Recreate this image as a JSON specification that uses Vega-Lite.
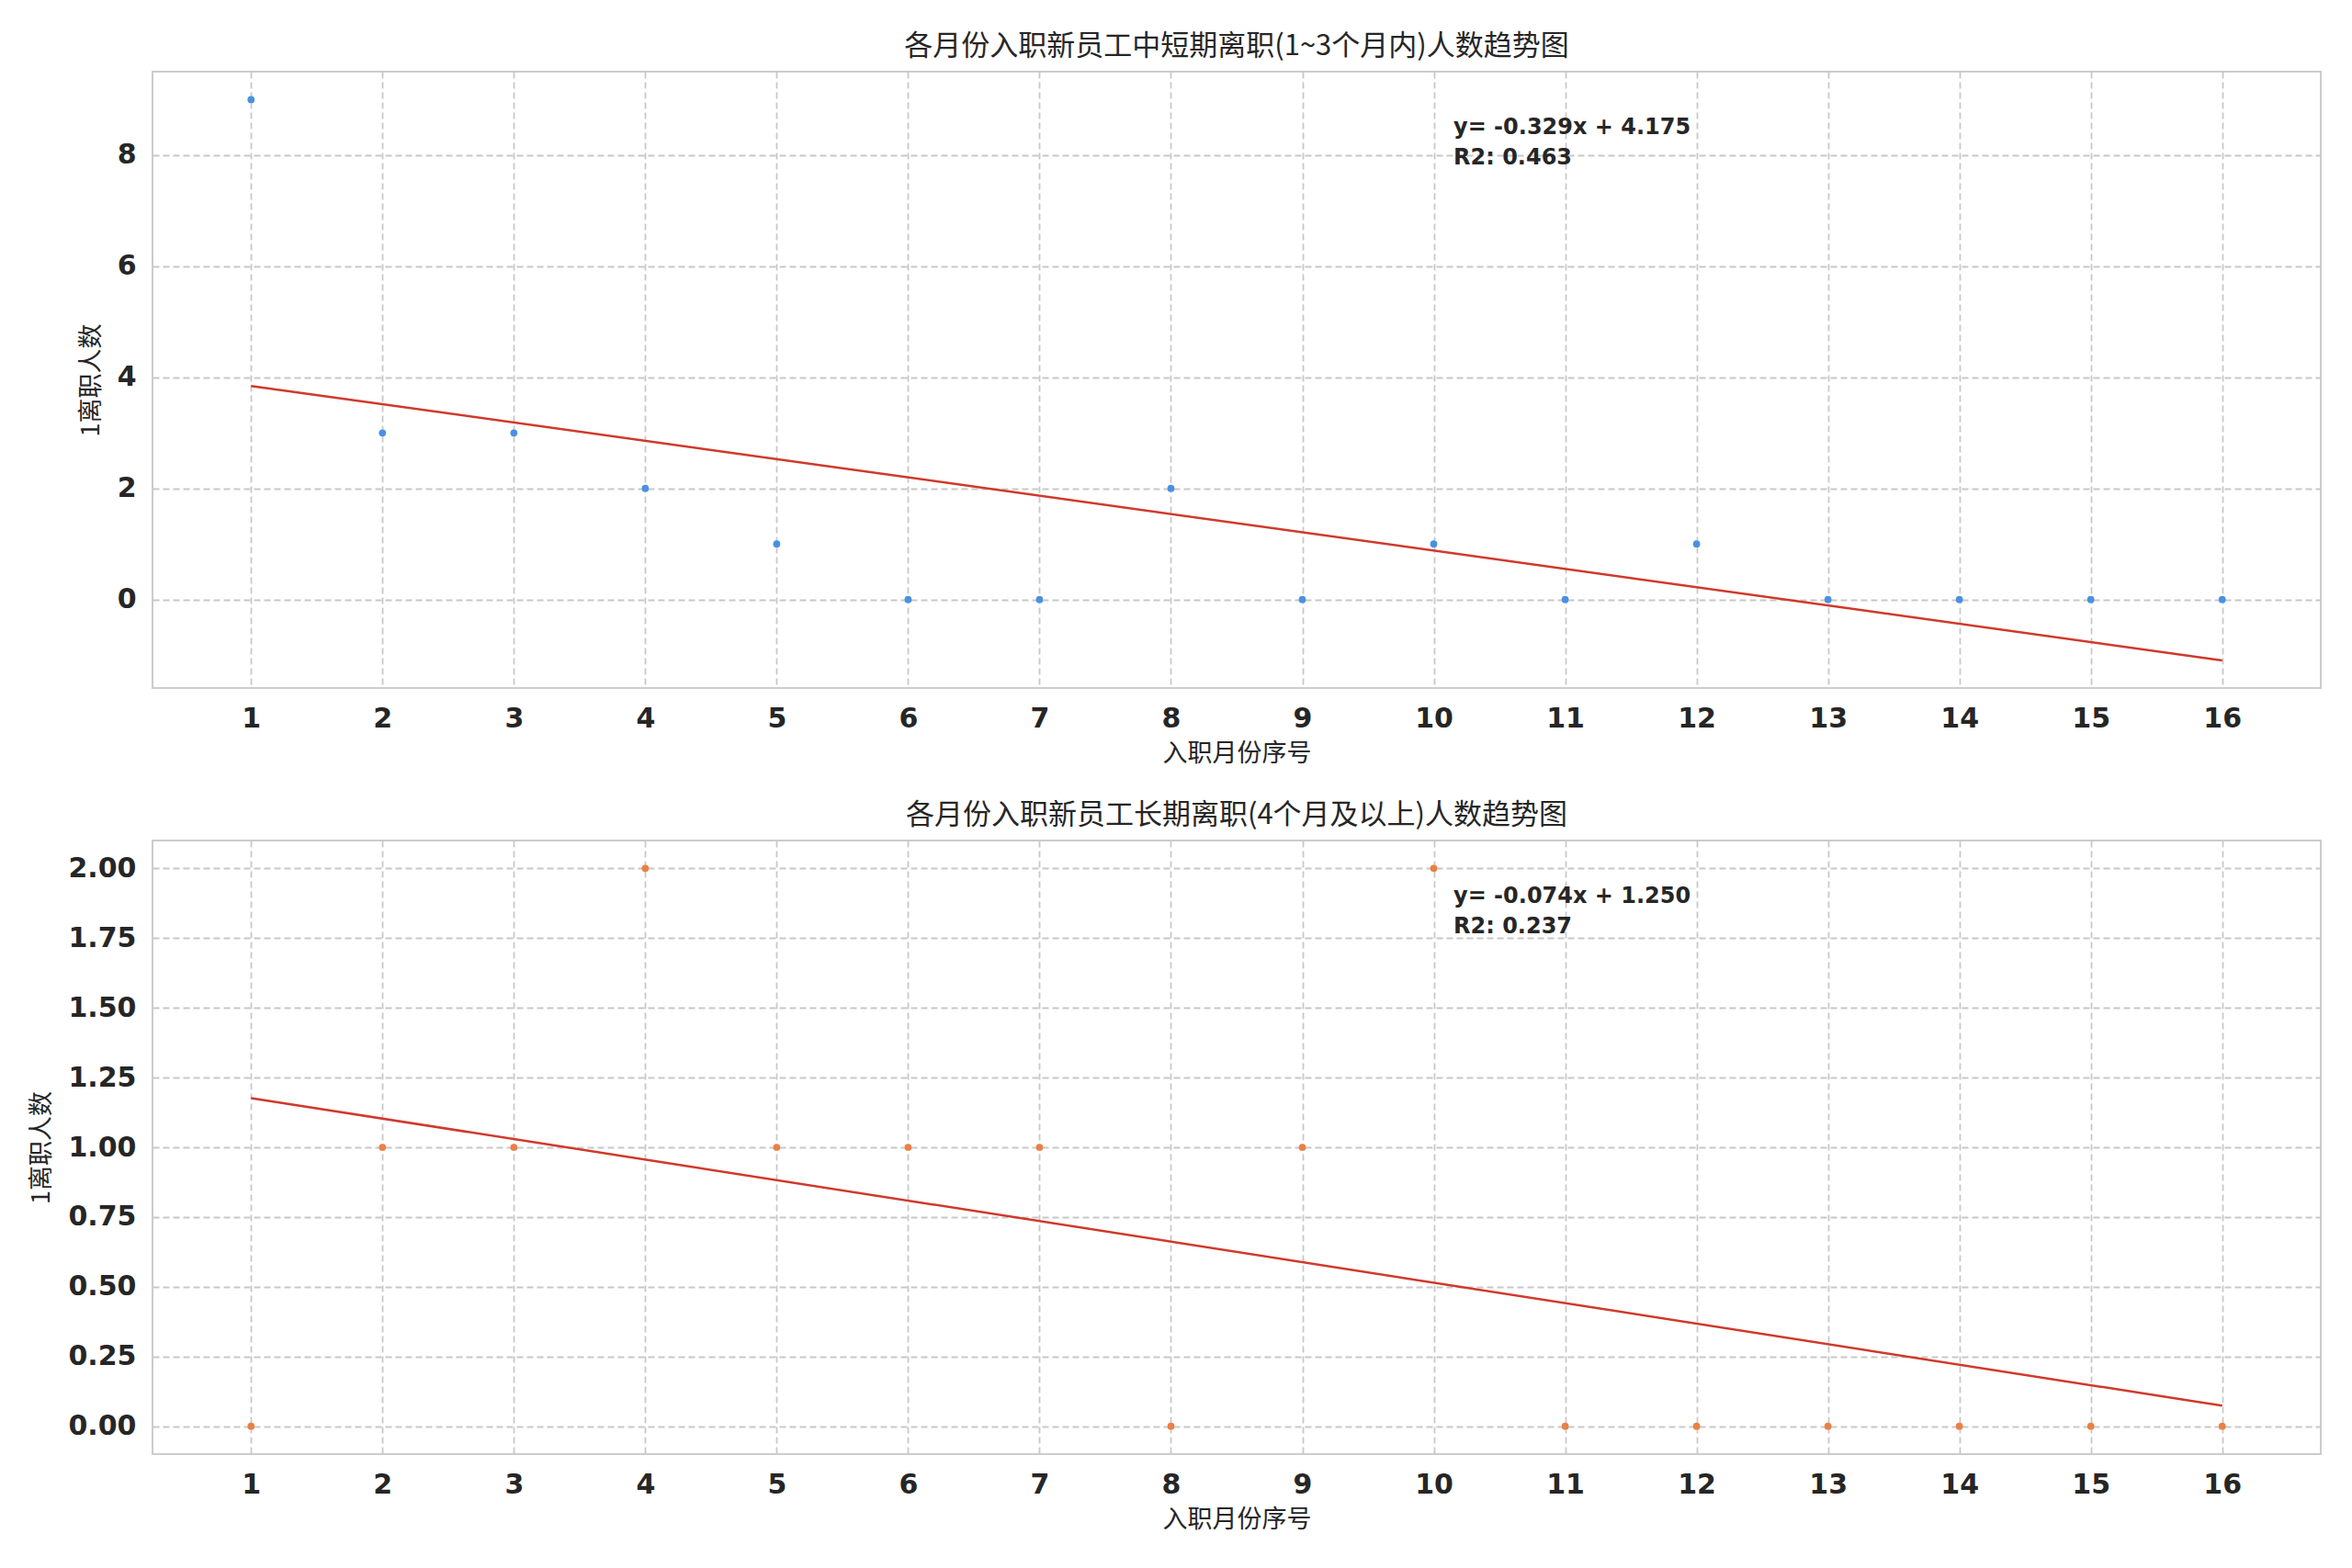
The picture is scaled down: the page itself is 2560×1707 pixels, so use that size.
{
  "$schema": "https://vega.github.io/schema/vega-lite/v6.json",
  "background": "white",
  "padding": {"left": 30, "top": 34, "right": 33, "bottom": 20},
  "spacing": 37,
  "config": {
    "font": "DejaVu Sans",
    "view": {"stroke": "#cccccc", "strokeWidth": 2},
    "axis": {
      "grid": true,
      "gridColor": "#c8c8c8",
      "gridDash": [7, 4],
      "gridWidth": 1.8,
      "domain": false,
      "ticks": false,
      "labelFont": "DejaVu Sans",
      "labelFontWeight": "bold",
      "labelFontSize": 30,
      "labelColor": "#262626",
      "labelPadding": 18,
      "titleFont": "Noto Sans CJK SC",
      "titleFontWeight": "normal",
      "titleFontSize": 27,
      "titleColor": "#262626"
    },
    "title": {"font": "Noto Sans CJK SC", "fontWeight": "normal", "fontSize": 31, "color": "#262626", "offset": 11, "anchor": "middle"}
  },
  "vconcat": [
    {
      "width": 2360,
      "height": 671,
      "title": "各月份入职新员工中短期离职(1~3个月内)人数趋势图",
      "data": {"values": [
        {"x": 1, "y": 9}, {"x": 2, "y": 3}, {"x": 3, "y": 3}, {"x": 4, "y": 2},
        {"x": 5, "y": 1}, {"x": 6, "y": 0}, {"x": 7, "y": 0}, {"x": 8, "y": 2},
        {"x": 9, "y": 0}, {"x": 10, "y": 1}, {"x": 11, "y": 0}, {"x": 12, "y": 1},
        {"x": 13, "y": 0}, {"x": 14, "y": 0}, {"x": 15, "y": 0}, {"x": 16, "y": 0}
      ]},
      "layer": [
        {
          "mark": {"type": "point", "filled": true, "size": 60, "color": "#4a90e2", "opacity": 1},
          "encoding": {
            "x": {"field": "x", "type": "quantitative", "scale": {"domain": [0.25, 16.75], "nice": false, "zero": false},
                  "axis": {"values": [1,2,3,4,5,6,7,8,9,10,11,12,13,14,15,16], "format": "d", "title": "入职月份序号", "titlePadding": 10}},
            "y": {"field": "y", "type": "quantitative", "scale": {"domain": [-1.593, 9.504], "nice": false, "zero": false},
                  "axis": {"values": [0, 2, 4, 6, 8], "format": "d", "title": "1离职人数", "titlePadding": 14}}
          }
        },
        {
          "transform": [{"regression": "y", "on": "x", "extent": [1, 16]}],
          "mark": {"type": "line", "color": "#d0392b", "strokeWidth": 2.5},
          "encoding": {
            "x": {"field": "x", "type": "quantitative"},
            "y": {"field": "y", "type": "quantitative"}
          }
        },
        {
          "data": {"values": [
            {"tx": 10.15, "ty": 8.49, "label": "y= -0.329x + 4.175"},
            {"tx": 10.15, "ty": 7.95, "label": "R2: 0.463"}
          ]},
          "mark": {"type": "text", "align": "left", "baseline": "middle", "fontWeight": "bold", "fontSize": 24, "color": "#262626", "font": "DejaVu Sans"},
          "encoding": {
            "x": {"field": "tx", "type": "quantitative"},
            "y": {"field": "ty", "type": "quantitative"},
            "text": {"field": "label"}
          }
        }
      ]
    },
    {
      "width": 2360,
      "height": 668,
      "title": "各月份入职新员工长期离职(4个月及以上)人数趋势图",
      "data": {"values": [
        {"x": 1, "y": 0}, {"x": 2, "y": 1}, {"x": 3, "y": 1}, {"x": 4, "y": 2},
        {"x": 5, "y": 1}, {"x": 6, "y": 1}, {"x": 7, "y": 1}, {"x": 8, "y": 0},
        {"x": 9, "y": 1}, {"x": 10, "y": 2}, {"x": 11, "y": 0}, {"x": 12, "y": 0},
        {"x": 13, "y": 0}, {"x": 14, "y": 0}, {"x": 15, "y": 0}, {"x": 16, "y": 0}
      ]},
      "layer": [
        {
          "mark": {"type": "point", "filled": true, "size": 60, "color": "#ec7f44", "opacity": 1},
          "encoding": {
            "x": {"field": "x", "type": "quantitative", "scale": {"domain": [0.25, 16.75], "nice": false, "zero": false},
                  "axis": {"values": [1,2,3,4,5,6,7,8,9,10,11,12,13,14,15,16], "format": "d", "title": "入职月份序号", "titlePadding": 10}},
            "y": {"field": "y", "type": "quantitative", "scale": {"domain": [-0.1, 2.1], "nice": false, "zero": false},
                  "axis": {"values": [0, 0.25, 0.5, 0.75, 1, 1.25, 1.5, 1.75, 2], "format": ".2f", "title": "1离职人数", "titlePadding": 14}}
          }
        },
        {
          "transform": [{"regression": "y", "on": "x", "extent": [1, 16]}],
          "mark": {"type": "line", "color": "#d0392b", "strokeWidth": 2.5},
          "encoding": {
            "x": {"field": "x", "type": "quantitative"},
            "y": {"field": "y", "type": "quantitative"}
          }
        },
        {
          "data": {"values": [
            {"tx": 10.15, "ty": 1.899, "label": "y= -0.074x + 1.250"},
            {"tx": 10.15, "ty": 1.79, "label": "R2: 0.237"}
          ]},
          "mark": {"type": "text", "align": "left", "baseline": "middle", "fontWeight": "bold", "fontSize": 24, "color": "#262626", "font": "DejaVu Sans"},
          "encoding": {
            "x": {"field": "tx", "type": "quantitative"},
            "y": {"field": "ty", "type": "quantitative"},
            "text": {"field": "label"}
          }
        }
      ]
    }
  ]
}
